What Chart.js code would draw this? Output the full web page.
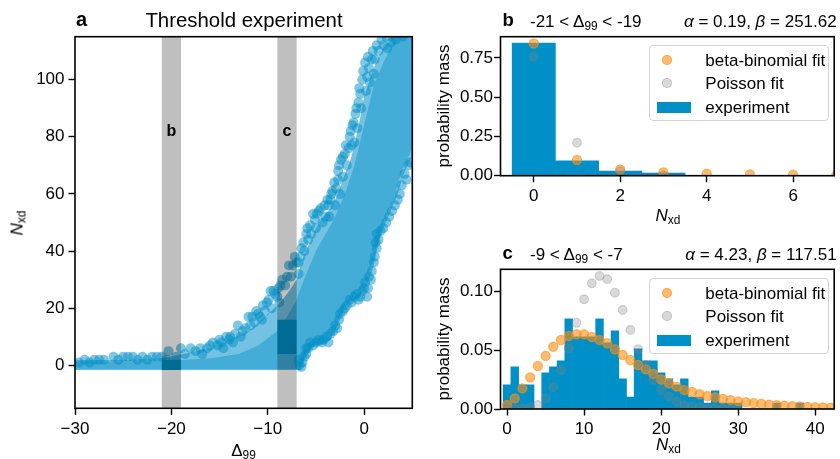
<!DOCTYPE html>
<html>
<head>
<meta charset="utf-8">
<script src="https://cdn.jsdelivr.net/npm/chart.js@4.4.0/dist/chart.umd.min.js"></script>
<style>
  body { margin: 0; background: #fff; }
  #fig { position: relative; width: 840px; height: 459px; overflow: hidden;
         font-family: "Liberation Sans", Arial, sans-serif; color: #000; }
  canvas { position: absolute; }
  .t { position: absolute; white-space: nowrap; line-height: 1; font-size: 17px; }
  .mid { transform: translate(-50%, -50%); }
  .lft { transform: translateY(-50%); }
  .rot { transform: translate(-50%, -50%) rotate(-90deg); }
  .sub { font-size: 0.7em; position: relative; top: 0.28em; }
  .bold { font-weight: bold; }
  .legend { position: absolute; width: 180px; height: 76px; box-sizing: border-box;
            border: 1px solid #d4d4d4; border-radius: 4px; background: rgba(255,255,255,0.8); }
  .mk { position: absolute; left: 11.5px; width: 10px; height: 10px; border-radius: 50%;
        box-sizing: border-box; transform: translateY(-50%); }
  .mk.bb { background: rgba(253,141,20,0.6); border: 1.2px solid rgba(253,141,20,0.6); }
  .mk.po { background: rgba(128,128,128,0.3); border: 1.2px solid rgba(128,128,128,0.3); }
  .patch { position: absolute; left: 7px; top: 56px; width: 34px; height: 11px; background: #0090c8; }
  .lt { position: absolute; left: 55px; font-size: 17px; line-height: 1; transform: translateY(-50%); white-space: nowrap; }
</style>
</head>
<body>
<div id="fig">
  <canvas id="chartA" width="420" height="459" style="left:0;top:0"></canvas>
  <canvas id="chartB" width="420" height="230" style="left:420px;top:0"></canvas>
  <canvas id="chartC" width="420" height="229" style="left:420px;top:230px"></canvas>

  <div class="t lft bold" style="left:76px;top:19px;font-size:20px">a</div>
  <div class="t mid" style="left:244px;top:19.5px;font-size:20.4px">Threshold experiment</div>
  <div class="t mid" style="left:243.5px;top:450px">Δ<span class="sub">99</span></div>
  <div class="t rot" style="left:17px;top:222.5px"><i>N</i><span class="sub">xd</span></div>
  <div id="labB" class="t mid bold" style="font-size:16px">b</div>
  <div id="labC" class="t mid bold" style="font-size:16px">c</div>

  <div class="t lft bold" style="left:502.5px;top:20px;font-size:18.5px">b</div>
  <div class="t lft" style="left:530px;top:20.5px">-21 &lt; Δ<span class="sub">99</span> &lt; -19</div>
  <div class="t lft" style="right:3.3px;top:20.5px"><i>α</i> = 0.19, <i>β</i> = 251.62</div>
  <div class="t mid" style="left:668px;top:215px"><i>N</i><span class="sub">xd</span></div>
  <div class="t rot" style="left:442.5px;top:106px">probability mass</div>

  <div class="t lft bold" style="left:502.5px;top:253px;font-size:18.5px">c</div>
  <div class="t lft" style="left:530px;top:253.5px">-9 &lt; Δ<span class="sub">99</span> &lt; -7</div>
  <div class="t lft" style="right:3.3px;top:253.5px"><i>α</i> = 4.23, <i>β</i> = 117.51</div>
  <div class="t mid" style="left:668.5px;top:444px"><i>N</i><span class="sub">xd</span></div>
  <div class="t rot" style="left:442.5px;top:339px">probability mass</div>

  <div class="legend" style="left:649.3px;top:45.2px">
    <span class="mk bb" style="top:14.3px"></span><span class="lt" style="top:14.3px">beta-binomial fit</span>
    <span class="mk po" style="top:37px"></span><span class="lt" style="top:37px">Poisson fit</span>
    <span class="patch"></span><span class="lt" style="top:61.2px">experiment</span>
  </div>
  <div class="legend" style="left:649.3px;top:277.7px">
    <span class="mk bb" style="top:14.3px"></span><span class="lt" style="top:14.3px">beta-binomial fit</span>
    <span class="mk po" style="top:37px"></span><span class="lt" style="top:37px">Poisson fit</span>
    <span class="patch"></span><span class="lt" style="top:61.2px">experiment</span>
  </div>
</div>

<script>
// ---------- panel a: threshold experiment ----------
var deltaTicks = [-30, -20, -10, 0];
var nTicksA = [0, 20, 40, 60, 80, 100];

// outline of the whole cloud
var cloudDelta = [-30, -25, -21, -18, -16, -14, -12, -11, -10, -9, -8, -7, -6.6, -6.2, -5.5, -5, -4.5, -4,
                  -3.5, -3, -2.5, -2, -1.5, -1, -0.5, 0, 0.5, 1, 1.5, 2, 2.5, 3, 3.5, 4, 4.5, 5];
var cloudHigh = [1.8, 2, 2.5, 4.5, 6, 9, 12, 15, 18, 21, 25, 30, 35, 39, 44, 48, 51, 53,
                 55, 58, 62, 67, 71, 77, 85, 94, 99, 104, 108, 111, 113, 116, 116, 116, 116, 116];
var cloudLow = [-1.6, -1.6, -1.6, -1.6, -1.6, -1.6, -1.6, -1.6, -1.6, -1.6, -1.6, -1.6, -1.6, 2, 6, 7, 7, 8,
                9, 12, 16, 20, 22, 23, 24, 26, 30, 35, 43, 48, 52, 56, 60, 66, 70, 73];

// outline of the most crowded part of the cloud
var denseDelta = [-30, -21, -16, -13, -11, -9, -8, -7, -6.6, -6, -5, -4, -3, -2, -1, 0, 1, 2, 3, 4, 5];
var denseHigh = [1.3, 1.5, 2.5, 4, 7, 12, 17, 23, 27, 32, 40, 46, 52, 60, 70, 84, 98, 106, 113, 116, 116];
var denseLow = [-1.3, -1.3, -1.3, -1.3, -1.3, -1.3, -1.3, -1.3, -1.3, 4, 8, 10, 14, 21, 25, 28, 37, 50, 58, 69, 76];

// loose points around the cloud [delta99, Nxd]
var loosePoints = [
  [-29.6, 1], [-29.0, 2], [-28.5, 1], [-28.0, 2], [-27.5, 2], [-27.0, 2], [-26.0, 3], [-25.5, 2], [-25.0, 3],
  [-24.5, 3], [-24.0, 3], [-23.5, 2], [-23.0, 3], [-22.5, 2], [-22.0, 3], [-21.5, 3], [-21.0, 3], [-20.5, 2],
  [-20.3, 5], [-19.5, 3], [-19.0, 6], [-18.6, 4], [-18.0, 6], [-17.5, 5], [-17.0, 6], [-16.8, 4], [-16.3, 6],
  [-16.0, 7], [-15.7, 8], [-15.2, 7], [-15.0, 9], [-14.8, 8], [-14.6, 6], [-14.3, 10], [-14.0, 9], [-13.9, 10],
  [-13.6, 8], [-13.4, 11], [-13.1, 14], [-12.8, 10], [-12.6, 12], [-12.3, 13], [-12.0, 17], [-11.8, 14],
  [-11.6, 17], [-11.4, 15], [-11.2, 19], [-11.0, 18], [-10.8, 17], [-10.6, 16], [-10.5, 21], [-10.3, 19],
  [-10.1, 22], [-9.9, 23], [-9.7, 26], [-9.6, 20], [-9.4, 26], [-9.2, 25], [-9.0, 24], [-8.9, 27], [-8.8, 22],
  [-8.7, 28], [-8.5, 30], [-8.2, 28], [-8.0, 31], [-7.8, 35], [-7.6, 31], [-7.4, 35], [-7.2, 38], [-7.0, 36],
  [-6.8, 32], [-6.8, 36], [-6.6, 38], [-6.5, 41], [-6.3, 43], [-6.2, 40], [-6.0, 46], [-5.9, 48], [-5.8, 44],
  [-5.6, 49], [-5.5, 46], [-5.3, 53], [-5.1, 51], [-5.0, 48], [-4.9, 53], [-4.7, 54], [-4.5, 55], [-4.3, 50],
  [-4.1, 56], [-4.0, 52], [-3.8, 58], [-3.7, 56], [-3.6, 52], [-3.5, 58], [-3.4, 60], [-3.3, 61], [-3.1, 64],
  [-3.0, 56], [-2.9, 62], [-2.7, 65], [-2.7, 68], [-2.6, 70], [-2.5, 60], [-2.4, 72], [-2.2, 66], [-2.2, 73],
  [-2.0, 74], [-1.9, 77], [-1.8, 70], [-1.6, 76], [-1.5, 80], [-1.4, 82], [-1.3, 77], [-1.2, 84], [-1.1, 85],
  [-1.0, 78], [-0.9, 88], [-0.8, 90], [-0.7, 83], [-0.6, 92], [-0.5, 97], [-0.4, 95], [-0.3, 90], [-0.2, 100],
  [-0.1, 103], [0.1, 106], [0.2, 96], [0.3, 101], [0.4, 108], [0.5, 104], [0.6, 99], [0.8, 107], [0.9, 110],
  [1.0, 102], [1.1, 107], [1.3, 112], [1.5, 110], [1.8, 114], [2.0, 112], [2.3, 115], [2.4, 111], [2.8, 113],
  [3.0, 115], [3.3, 114], [4.0, 115],
  [-6.7, 0], [-6.5, -0.5], [-6.8, 2], [-6.4, 1], [-6.2, 3], [-6.0, 4], [-6.0, 6], [-5.8, 6], [-5.6, 8],
  [-5.3, 7], [-5.0, 8], [-4.7, 9], [-4.4, 8], [-4.2, 9], [-3.9, 10], [-3.7, 8], [-3.5, 11], [-3.2, 12],
  [-3.0, 14], [-2.8, 13], [-2.6, 16], [-2.5, 18], [-2.2, 19], [-2.0, 20], [-1.8, 21], [-1.5, 23], [-1.3, 22],
  [-1.0, 24], [-0.8, 25], [-0.6, 23], [-0.4, 24], [-0.2, 26], [0.0, 27], [0.3, 24], [0.4, 27], [0.1, 29],
  [0.5, 31], [0.7, 30], [0.8, 33], [1.0, 36], [1.1, 38], [1.2, 43], [1.3, 41], [1.3, 46], [1.5, 44],
  [1.7, 47], [2.0, 48], [2.3, 50], [2.6, 52], [2.9, 54], [3.2, 56], [3.5, 58], [3.7, 60], [3.9, 63],
  [4.2, 67], [4.4, 65], [4.6, 70], [4.8, 71]
];

// shaded delta99 windows (panels b and c) and the heavily sampled N range inside them
var windowNames = ['b', 'c'];
var windowFrom = [-21, -9];
var windowTo = [-19, -7];
var windowDenseLow = [-1.6, 4];
var windowDenseHigh = [2, 16];

// ---------- panel b: -21 < delta99 < -19 ----------
var kB = [0, 1, 2, 3, 4, 5, 6, 7];
var expB = [0.845, 0.094, 0.030, 0.017];
var betaBinomB = [0.842, 0.100, 0.040, 0.021, 0.013, 0.008, 0.006, 0.005];
var poissonB = [0.757, 0.210, 0.029, 0.003];
var xTicksB = [0, 2, 4, 6];
var yTicksB = [0, 0.25, 0.5, 0.75];

// ---------- panel c: -9 < delta99 < -7 ----------
var expC = [0.0204, 0.0357, 0.0204, 0.0204, 0, 0.0306, 0.0357, 0.0408, 0.0765, 0.0612, 0.0612, 0.0612,
            0.0765, 0.0561, 0.0663, 0.0255, 0.0102, 0.0510, 0.0408, 0.0408, 0.0306, 0.0255, 0.0204, 0.0255,
            0.0102, 0.0102, 0.0051, 0.0153, 0.0051, 0.0051, 0.0051, 0, 0, 0, 0, 0.0051, 0, 0, 0.0051,
            0, 0, 0, 0];
var betaBinomC = [0.0034, 0.009, 0.0175, 0.0267, 0.0364, 0.045, 0.0528, 0.0585, 0.0619, 0.0633, 0.0633,
                  0.061, 0.0585, 0.0557, 0.0506, 0.0458, 0.0415, 0.0373, 0.0336, 0.0297, 0.025, 0.0218,
                  0.019, 0.016, 0.0145, 0.0125, 0.011, 0.0098, 0.0086, 0.0075, 0.0065, 0.0057, 0.005,
                  0.0043, 0.0037, 0.0032, 0.0028, 0.0024, 0.0021, 0.0018, 0.0015, 0.0013, 0.0011];
var poissonC = [0, 0.0001, 0.0005, 0.0014, 0.0034, 0.009, 0.0184, 0.033, 0.0514, 0.073, 0.093, 0.1065,
                0.1127, 0.110, 0.0986, 0.0839, 0.067, 0.0506, 0.0373, 0.0246, 0.0161, 0.0105, 0.0062,
                0.0034, 0.0022, 0.0013, 0.0007, 0.0003, 0.0002, 0.0001];
var xTicksC = [0, 10, 20, 30, 40];
var yTicksC = [0, 0.05, 0.1];

var blue = '#0090c8';
var orange = 'rgba(253,141,20,0.6)';
var grey = 'rgba(128,128,128,0.3)';

Chart.defaults.font.family = '"Liberation Sans", Arial, sans-serif';
Chart.defaults.font.size = 17;
Chart.defaults.color = '#000';

function minus(v) { return v < 0 ? '\u2212' + Math.abs(v) : String(v); }
function twoDec(v) { return v.toFixed(2); }

// linear axis with fixed ticks and fixed thickness, matplotlib-like outward ticks
function axis(min, max, ticks, fmt, thickness, vertical, pad) {
  return {
    type: 'linear', min: min, max: max, offset: false,
    afterBuildTicks: function (s) { s.ticks = ticks.map(function (v) { return { value: v }; }); },
    afterFit: function (s) { if (vertical) s.width = thickness; else s.height = thickness; },
    grid: { drawOnChartArea: false, drawTicks: true, offset: false, tickLength: 6.5, tickWidth: 1.4, tickColor: '#000' },
    border: { display: false },
    ticks: { autoSkip: false, maxRotation: 0, padding: pad, color: '#000', font: { size: 17 }, callback: fmt }
  };
}

var framePlugin = {
  id: 'frame',
  afterDraw: function (chart) {
    var a = chart.chartArea, ctx = chart.ctx;
    ctx.save();
    ctx.strokeStyle = '#000';
    ctx.lineWidth = 1.6;
    ctx.strokeRect(a.left, a.top, a.right - a.left, a.bottom - a.top);
    ctx.restore();
  }
};

var windowPlugin = {
  id: 'windows',
  afterDatasetsDraw: function (chart) {
    var ctx = chart.ctx, a = chart.chartArea, x = chart.scales.x, y = chart.scales.y;
    ctx.save();
    ctx.beginPath();
    ctx.rect(a.left, a.top, a.right - a.left, a.bottom - a.top);
    ctx.clip();
    for (var i = 0; i < windowFrom.length; i++) {
      var x0 = x.getPixelForValue(windowFrom[i]);
      var x1 = x.getPixelForValue(windowTo[i]);
      var yTop = y.getPixelForValue(windowDenseHigh[i]);
      var yBot = y.getPixelForValue(windowDenseLow[i]);
      ctx.fillStyle = blue;
      ctx.fillRect(x0, yTop, x1 - x0, yBot - yTop);
      ctx.fillStyle = 'rgba(0,0,0,0.25)';
      ctx.fillRect(x0, a.top, x1 - x0, a.bottom - a.top);
    }
    ctx.restore();
  }
};

function xy(xs, ys) { return xs.map(function (v, i) { return { x: v, y: ys[i] }; }); }
function edge(xs, ys) { return { data: xy(xs, ys), pointRadius: 0, borderColor: 'rgba(0,0,0,0)', borderWidth: 1, clip: 0 }; }

var denseLowLine = edge(denseDelta, denseLow);
denseLowLine.fill = false;
var denseHighLine = edge(denseDelta, denseHigh);
denseHighLine.fill = '-1';
denseHighLine.backgroundColor = 'rgba(0,144,200,0.42)';
var cloudLowLine = edge(cloudDelta, cloudLow);
cloudLowLine.fill = false;
var cloudHighLine = edge(cloudDelta, cloudHigh);
cloudHighLine.fill = '-1';
cloudHighLine.backgroundColor = 'rgba(0,144,200,0.55)';

var chartA = new Chart(document.getElementById('chartA'), {
  type: 'line',
  data: {
    datasets: [{
      data: loosePoints.map(function (p) { return { x: p[0], y: p[1] }; }),
      showLine: false, pointRadius: 5, pointBorderWidth: 0,
      pointBackgroundColor: 'rgba(0,144,200,0.5)', pointBorderColor: 'rgba(0,0,0,0)', clip: 0
    }, denseLowLine, denseHighLine, cloudLowLine, cloudHighLine]
  },
  options: {
    responsive: false, animation: false, events: [],
    layout: { padding: { top: 36.7, right: 7.7, bottom: 0, left: 0 } },
    scales: {
      x: axis(-30, 5, deltaTicks, minus, 50.7, false, 4),
      y: axis(-15, 115, nTicksA, minus, 75, true, 4)
    },
    plugins: { legend: { display: false }, tooltip: { enabled: false } }
  },
  plugins: [windowPlugin, framePlugin]
});

// place the b / c window labels through the chart's scales
['labB', 'labC'].forEach(function (id, i) {
  var el = document.getElementById(id);
  el.style.left = chartA.scales.x.getPixelForValue((windowFrom[i] + windowTo[i]) / 2) + 'px';
  el.style.top = chartA.scales.y.getPixelForValue(82) + 'px';
});

function histChart(id, ks, exp, bb, poi, xMin, xMax, xTicks, yMax, yTicks, pad, xHeight) {
  return new Chart(document.getElementById(id), {
    type: 'bar',
    data: {
      datasets: [{
        type: 'line', label: 'Poisson fit', data: poi.map(function (v, i) { return { x: ks[i], y: v }; }),
        showLine: false, pointRadius: 4.4, pointBorderWidth: 1.2,
        pointBackgroundColor: grey, pointBorderColor: grey, clip: 0
      }, {
        type: 'line', label: 'beta-binomial fit', data: bb.map(function (v, i) { return { x: ks[i], y: v }; }),
        showLine: false, pointRadius: 4.6, pointBorderWidth: 1.2,
        pointBackgroundColor: orange, pointBorderColor: orange, clip: 0
      }, {
        type: 'bar', label: 'experiment', data: exp.map(function (v, i) { return { x: ks[i], y: v }; }),
        backgroundColor: blue, borderWidth: 0, barPercentage: 1, categoryPercentage: 1, clip: 0
      }]
    },
    options: {
      responsive: false, animation: false, events: [],
      layout: { padding: pad },
      scales: {
        x: axis(xMin, xMax, xTicks, minus, xHeight, false, 4),
        y: axis(0, yMax, yTicks, twoDec, 80.5, true, 1)
      },
      plugins: { legend: { display: false }, tooltip: { enabled: false } }
    },
    plugins: [framePlugin]
  });
}

var kC = expC.map(function (v, i) { return i; });
histChart('chartB', kB, expB, betaBinomB, poissonB, -0.77, 6.95, xTicksB, 0.8855, yTicksB,
          { top: 36.7, right: 4, bottom: 0, left: 0 }, 54.3);
histChart('chartC', kC, expC, betaBinomC, poissonC, -0.85, 42.45, xTicksC, 0.1184, yTicksC,
          { top: 39.3, right: 3.3, bottom: 0, left: 0 }, 50);
</script>
</body>
</html>
